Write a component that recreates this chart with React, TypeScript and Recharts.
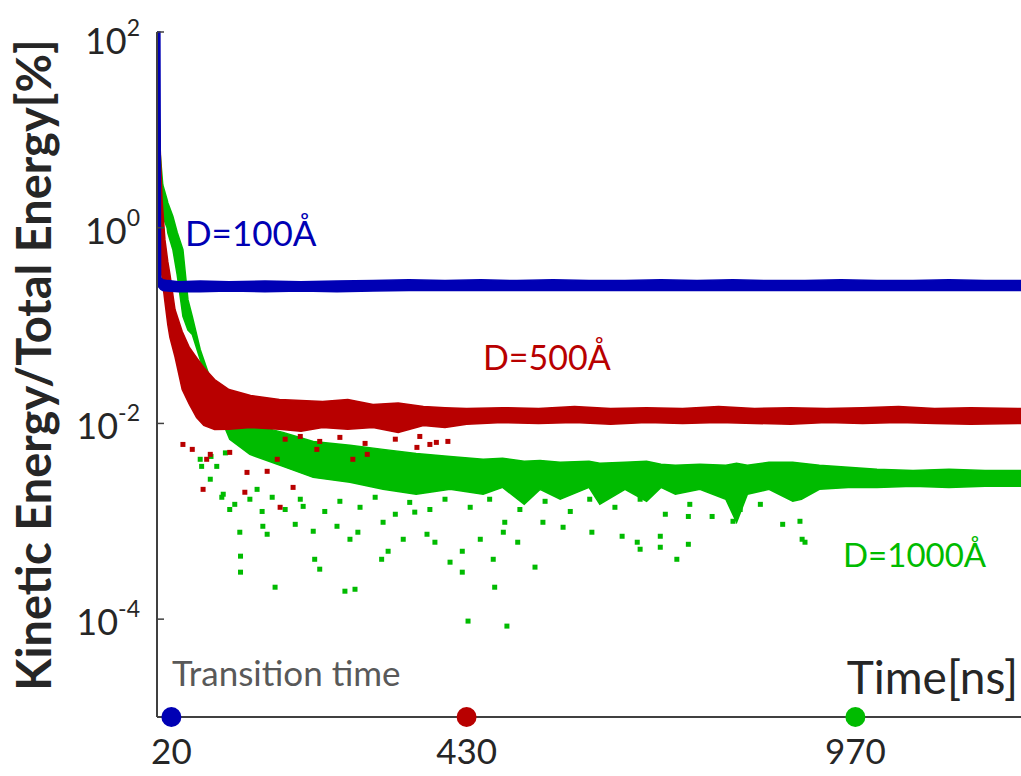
import {
  Area,
  ComposedChart,
  Scatter,
  XAxis,
  YAxis,
} from "recharts";

// Kinetic/total energy ratio (%) vs time (ns) for three cluster sizes.
// Bands as [low, high] envelopes; scattered
// points below the bands are listed separately.

const BLUE = "#0000b4";
const RED = "#b80000";
const GREEN = "#00bb00";
const AXIS = "#404040";
const FONT = "Lato, 'Open Sans', sans-serif";

const xTicks = [20, 430, 970];
const yTicks = [1e-4, 1e-2, 1, 100];

// D=100Å
const blueTime = [0, 4, 5, 8, 15, 30, 60, 100, 150, 200, 250, 300, 350, 400, 450, 500, 550, 600, 650, 700, 750, 800, 850, 900, 950, 1000, 1050, 1100, 1150, 1200];
const blueHigh = [100, 100, 0.309, 0.294, 0.288, 0.281, 0.285, 0.281, 0.285, 0.281, 0.285, 0.288, 0.294, 0.288, 0.294, 0.288, 0.294, 0.288, 0.288, 0.294, 0.288, 0.294, 0.288, 0.288, 0.294, 0.288, 0.288, 0.294, 0.288, 0.288];
const blueLow = [0.26, 0.24, 0.235, 0.228, 0.225, 0.222, 0.222, 0.225, 0.222, 0.225, 0.222, 0.225, 0.228, 0.228, 0.228, 0.228, 0.228, 0.228, 0.228, 0.228, 0.228, 0.228, 0.228, 0.228, 0.228, 0.228, 0.228, 0.228, 0.228, 0.228];

// D=500Å
const redTime = [0, 1, 2, 4, 7, 11, 15, 18, 25, 35, 45, 55, 65, 80, 100, 130, 170, 200, 230, 265, 300, 335, 370, 400, 430, 480, 530, 580, 630, 680, 730, 780, 830, 880, 930, 980, 1030, 1080, 1130, 1200];
const redHigh = [100, 51.8, 25.6, 7.9, 1.93, 0.755, 0.45, 0.331, 0.146, 0.0869, 0.0597, 0.0471, 0.0373, 0.0281, 0.0222, 0.0193, 0.0176, 0.0172, 0.0168, 0.0176, 0.0156, 0.0162, 0.0149, 0.0145, 0.0142, 0.0145, 0.0142, 0.0149, 0.0142, 0.0145, 0.0142, 0.0149, 0.0142, 0.0145, 0.0142, 0.0145, 0.0149, 0.0142, 0.0145, 0.0142];
const redLow = [3.0, 2.0, 0.95, 0.53, 0.309, 0.176, 0.102, 0.0755, 0.048, 0.0222, 0.0156, 0.0115, 0.00955, 0.00869, 0.0087, 0.0091, 0.0087, 0.0083, 0.0091, 0.0087, 0.0091, 0.0081, 0.0095, 0.0091, 0.0098, 0.0102, 0.01, 0.0102, 0.0098, 0.0102, 0.01, 0.0102, 0.01, 0.0098, 0.0102, 0.01, 0.0102, 0.01, 0.0098, 0.01];

// D=1000Å
const greenTime = [0, 1.4, 4, 8, 14, 15, 22, 28, 36, 43, 49, 60, 71, 81, 101, 129, 175, 217, 268, 314, 360, 407, 453, 480, 510, 532, 560, 600, 615, 650, 680, 700, 720, 754, 790, 805, 820, 850, 883, 895, 920, 960, 1000, 1050, 1100, 1150, 1200];
const greenHigh = [100, 97.7, 6.25, 2.75, 1.93, 1.8, 1.31, 0.9, 0.597, 0.184, 0.124, 0.0569, 0.0331, 0.0222, 0.0139, 0.0098, 0.0081, 0.00655, 0.00597, 0.00543, 0.00494, 0.0046, 0.0043, 0.0044, 0.0041, 0.00419, 0.004, 0.0041, 0.00391, 0.004, 0.0041, 0.00382, 0.00373, 0.00382, 0.00373, 0.00391, 0.00373, 0.004, 0.004, 0.00391, 0.00373, 0.00356, 0.0034, 0.00331, 0.0034, 0.00331, 0.00331];
const greenLow = [51.8, 2.9, 2.2, 1.31, 1.0, 0.889, 0.6, 0.331, 0.124, 0.09, 0.0809, 0.045, 0.025, 0.0156, 0.0069, 0.00483, 0.00364, 0.00281, 0.0025, 0.00212, 0.00189, 0.00212, 0.00189, 0.00222, 0.00149, 0.00212, 0.00168, 0.00222, 0.00149, 0.00212, 0.0016, 0.00222, 0.00189, 0.00212, 0.00168, 0.000977, 0.00189, 0.00212, 0.0016, 0.00168, 0.00212, 0.00222, 0.00222, 0.00228, 0.00222, 0.00228, 0.00228];

// stray points under the bands
const redDotTime = [36, 49, 64, 69, 74, 101, 122, 125, 153, 167, 171, 178, 189, 199, 222, 226, 254, 272, 289, 292, 331, 361, 365, 379, 388, 404];
const redDotValue = [0.0061, 0.00543, 0.00212, 0.0043, 0.00483, 0.00506, 0.00198, 0.00316, 0.00324, 0.0043, 0.00139, 0.0069, 0.00222, 0.00736, 0.00543, 0.00655, 0.0072, 0.0043, 0.00625, 0.00483, 0.0069, 0.00569, 0.00736, 0.0061, 0.0064, 0.00655];

const greenDotTime = [60, 62, 74, 75, 83, 90, 92, 95, 101, 108, 115, 116, 116, 129, 139, 146, 147, 153, 160, 164, 178, 192, 199, 203, 217, 219, 226, 233, 250, 254, 261, 268, 275, 279, 282, 303, 312, 314, 321, 331, 342, 351, 358, 375, 379, 386, 400, 407, 424, 424, 432, 435, 449, 462, 467, 469, 481, 483, 486, 501, 504, 525, 536, 539, 564, 574, 601, 604, 636, 646, 667, 671, 671, 699, 699, 706, 722, 738, 738, 740, 771, 800, 810, 838, 869, 893, 896, 900];
const greenDotValue = [0.0043, 0.00364, 0.00269, 0.0046, 0.00364, 0.00176, 0.00189, 0.005, 0.00132, 0.00149, 0.000773, 0.00044, 0.000302, 0.00168, 0.00212, 0.00126, 0.000889, 0.000737, 0.00176, 0.000212, 0.00132, 0.000931, 0.00168, 0.00142, 0.000791, 0.000409, 0.000324, 0.00126, 0.000889, 0.0016, 0.000193, 0.000655, 0.000202, 0.000773, 0.00139, 0.00176, 0.000409, 0.000977, 0.000494, 0.00118, 0.000655, 0.00156, 0.00124, 0.000737, 0.00132, 0.000611, 0.00168, 0.000382, 0.000494, 0.000302, 0.0000955, 0.00139, 0.000655, 0.00168, 0.000409, 0.000212, 0.000773, 0.000977, 0.0000849, 0.000611, 0.00132, 0.00034, 0.000977, 0.0016, 0.000869, 0.00126, 0.00168, 0.000773, 0.00139, 0.000703, 0.000611, 0.000518, 0.00168, 0.000703, 0.000543, 0.00118, 0.000409, 0.000582, 0.00112, 0.00149, 0.00112, 0.001, 0.00132, 0.00149, 0.000931, 0.001, 0.000655, 0.000611];

// transition times marked on the time axis
const transitionTime = [20, 430, 970];
const transitionColor = [BLUE, RED, GREEN];

const band = (t: number[], lo: number[], hi: number[]) =>
  t.map((x, i) => ({ t: x, range: [lo[i], hi[i]] }));
const dots = (t: number[], v: number[]) => t.map((x, i) => ({ t: x, v: v[i] }));

const blueBand = band(blueTime, blueLow, blueHigh);
const redBand = band(redTime, redLow, redHigh);
const greenBand = band(greenTime, greenLow, greenHigh);
const redDots = dots(redDotTime, redDotValue);
const greenDots = dots(greenDotTime, greenDotValue);
const transitions = transitionTime.map((t, i) => ({ t, v: 1e-5, c: transitionColor[i] }));

const square = (color: string) => (p: any) => (
  <rect x={p.cx - 2.5} y={p.cy - 2.5} width={5} height={5} fill={color} />
);

const YTick = ({ x, y, payload }: any) => {
  const exp = Math.round(Math.log10(payload.value));
  const shift = exp === 2 ? 9 : 3;
  return (
    <g>
      <line x1={x} x2={x + 7} y1={y} y2={y} stroke={AXIS} strokeWidth={1.5} />
      <text
        x={x - 17}
        y={y + shift + 13}
        textAnchor="end"
        fontFamily={FONT}
        fontSize={36}
        fill="#262626"
      >
        <tspan>10</tspan>
        <tspan dy={-18} fontSize={23}>
          {exp}
        </tspan>
      </text>
    </g>
  );
};

const XTick = ({ x, y, payload }: any) => (
  <text
    x={x}
    y={y + 47}
    textAnchor="middle"
    fontFamily={FONT}
    fontSize={35}
    fill="#262626"
  >
    {payload.value}
  </text>
);

export default function App() {
  return (
    <div style={{ position: "absolute", left: 0, top: 0, width: 1021, height: 776, background: "#fff" }}>
      <ComposedChart
        width={1021}
        height={776}
        margin={{ top: 32, right: 0, bottom: 9, left: 97 }}
      >
        <XAxis
          dataKey="t"
          type="number"
          domain={[0, 1200]}
          ticks={xTicks}
          height={50}
          tickSize={0}
          tickMargin={0}
          tickLine={false}
          axisLine={{ stroke: AXIS, strokeWidth: 2 }}
          tick={<XTick />}
          interval={0}
        />
        <YAxis
          scale="log"
          type="number"
          domain={[1e-5, 100]}
          ticks={yTicks}
          width={60}
          tickSize={0}
          tickMargin={0}
          tickLine={false}
          axisLine={{ stroke: AXIS, strokeWidth: 2 }}
          tick={<YTick />}
          interval={0}
        />
        <Area
          data={greenBand}
          dataKey="range"
          type="linear"
          stroke={GREEN}
          strokeWidth={1.5}
          fill={GREEN}
          fillOpacity={1}
          isAnimationActive={false}
          dot={false}
          activeDot={false}
        />
        <Scatter
          data={greenDots}
          dataKey="v"
          fill={GREEN}
          shape={square(GREEN)}
          isAnimationActive={false}
        />
        <Area
          data={redBand}
          dataKey="range"
          type="linear"
          stroke={RED}
          strokeWidth={1.5}
          fill={RED}
          fillOpacity={1}
          isAnimationActive={false}
          dot={false}
          activeDot={false}
        />
        <Scatter
          data={redDots}
          dataKey="v"
          fill={RED}
          shape={square(RED)}
          isAnimationActive={false}
        />
        <Area
          data={blueBand}
          dataKey="range"
          type="linear"
          stroke={BLUE}
          strokeWidth={1.5}
          fill={BLUE}
          fillOpacity={1}
          isAnimationActive={false}
          dot={false}
          activeDot={false}
        />
        <Scatter
          data={transitions}
          dataKey="v"
          isAnimationActive={false}
          shape={(p: any) => <circle cx={p.cx} cy={p.cy} r={10} fill={p.payload.c} />}
        />
      </ComposedChart>
      <svg
        width={1021}
        height={776}
        style={{ position: "absolute", left: 0, top: 0, pointerEvents: "none" }}
        fontFamily={FONT}
      >
        <text
          transform="translate(51, 365) rotate(-90)"
          textAnchor="middle"
          fontSize={47}
          fontWeight="bold"
          fill="#262626"
        >
          Kinetic Energy/Total Energy[%]
        </text>
        <text x={185} y={246} fontSize={35} fill={BLUE}>D=100Å</text>
        <text x={483} y={370} fontSize={34} fill={RED}>D=500Å</text>
        <text x={843} y={567} fontSize={33} fill={GREEN}>D=1000Å</text>
        <text x={172} y={686} fontSize={35} fill="#595959">Transition time</text>
        <text x={1018} y={694} fontSize={46} textAnchor="end" fill="#262626">Time[ns]</text>
      </svg>
    </div>
  );
}
